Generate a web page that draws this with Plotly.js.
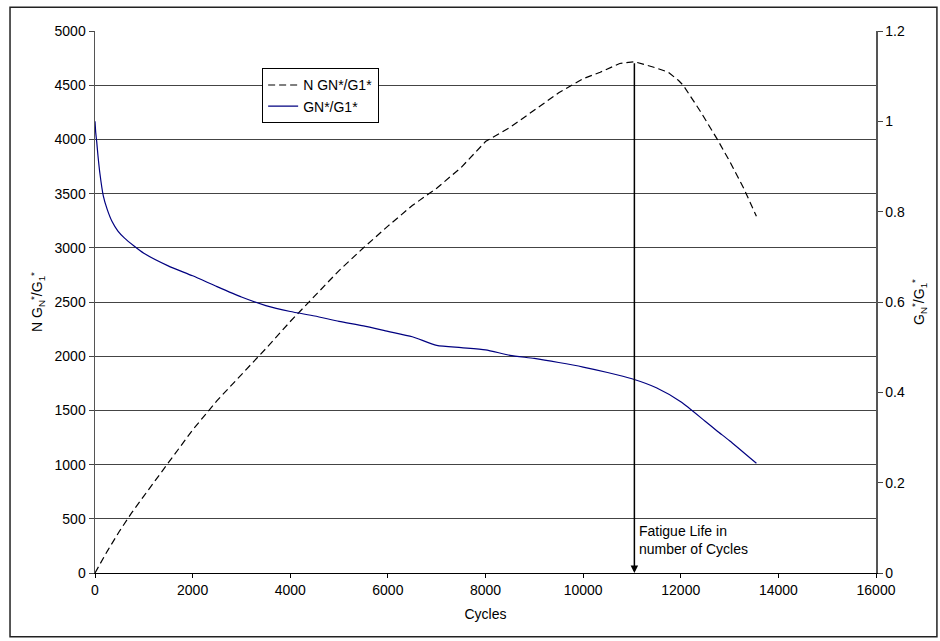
<!DOCTYPE html>
<html>
<head>
<meta charset="utf-8">
<script src="https://cdn.plot.ly/plotly-3.0.1.min.js"></script>
<style>html,body{margin:0;padding:0;background:#fff;}#chart{width:940px;height:641px;}</style>
</head>
<body>
<div id="chart"></div>
<script>
// N * GN*/G1* (left axis)
const cyclesN = [0, 250, 500, 750, 1000, 1500, 2000, 2500, 3000, 3500, 4000, 4500, 5000, 5500, 6000, 6500, 7000, 7500, 8000, 8500, 9000, 9500, 10000, 10350, 10750, 11050, 11430, 11740, 11950, 12050, 12400, 12750, 13000, 13300, 13550];
const nRatio = [0, 200, 385, 555, 710, 1015, 1320, 1590, 1830, 2070, 2320, 2560, 2790, 3000, 3200, 3390, 3550, 3740, 3980, 4110, 4270, 4430, 4560, 4620, 4700, 4717, 4668, 4622, 4545, 4500, 4260, 4000, 3800, 3540, 3290];

// GN*/G1* (right axis)
const cyclesG = [0, 15, 35, 60, 100, 170, 250, 350, 470, 600, 800, 1000, 1500, 2000, 2500, 3000, 3500, 4000, 4500, 5000, 5500, 6000, 6500, 7000, 7500, 8000, 8500, 9000, 9500, 10000, 10500, 11000, 11500, 12000, 12500, 12750, 13000, 13550];
const gRatio = [1.0, 0.975, 0.955, 0.925, 0.885, 0.835, 0.805, 0.778, 0.757, 0.742, 0.724, 0.708, 0.680, 0.658, 0.634, 0.611, 0.592, 0.579, 0.569, 0.557, 0.547, 0.535, 0.523, 0.504, 0.499, 0.494, 0.482, 0.475, 0.466, 0.456, 0.444, 0.430, 0.410, 0.379, 0.336, 0.314, 0.293, 0.243];

const fatigueLife = 11050;
const fatiguePeak = 4717;
const fatigueLabel = 'Fatigue Life in<br>number of Cycles';
const fatigueLabelY = 300;

const font = {family: 'Liberation Sans, Arial, sans-serif', size: 14, color: '#000'};

const traces = [
  {x: cyclesN, y: nRatio, yaxis: 'y', type: 'scatter', mode: 'lines',
   name: 'N GN*/G1*', line: {color: '#000', width: 1.2, dash: '7px,4px'}},
  {x: cyclesG, y: gRatio, yaxis: 'y2', type: 'scatter', mode: 'lines',
   name: 'GN*/G1*', line: {color: '#000080', width: 1.2, shape: 'spline', smoothing: 0.6}}
];

const layout = {
  width: 940, height: 641,
  margin: {l: 95, r: 64, t: 31, b: 68},
  paper_bgcolor: '#fff', plot_bgcolor: '#fff',
  font: font,
  showlegend: true,
  legend: {x: 0.214, y: 0.931, xanchor: 'left', yanchor: 'top',
    bgcolor: '#fff', bordercolor: '#000', borderwidth: 1,
    font: font, traceorder: 'normal'},
  xaxis: {range: [0, 16000], dtick: 2000, tick0: 0, tickformat: 'd',
    showgrid: false, zeroline: false, showline: true, linecolor: '#000', linewidth: 1,
    ticks: 'outside', ticklen: 4, tickcolor: '#000',
    title: {text: 'Cycles', font: font, standoff: 12}},
  yaxis: {range: [0, 5000], dtick: 500, tick0: 0, tickformat: 'd',
    showgrid: true, gridcolor: '#444', gridwidth: 1, zeroline: false,
    showline: true, linecolor: '#555', linewidth: 1.5,
    ticks: 'outside', ticklen: 5, tickcolor: '#444',
    title: {text: 'N G<sub>N</sub><sup>*</sup>/G<sub>1</sub><sup>*</sup>', font: font, standoff: 8}},
  yaxis2: {range: [0, 1.2], dtick: 0.2, tick0: 0, overlaying: 'y', side: 'right',
    showgrid: false, zeroline: false, showline: true, linecolor: '#555', linewidth: 1.5,
    ticks: 'outside', ticklen: 5, tickcolor: '#444',
    title: {text: 'G<sub>N</sub><sup>*</sup>/G<sub>1</sub><sup>*</sup>', font: font, standoff: 10}},
  annotations: [
    {x: fatigueLife, y: 0, ax: fatigueLife, ay: fatiguePeak, xref: 'x', yref: 'y', axref: 'x', ayref: 'y',
     showarrow: true, arrowhead: 2, arrowsize: 1, arrowwidth: 1.5, arrowcolor: '#000', text: ''},
    {x: fatigueLife, y: fatigueLabelY, xref: 'x', yref: 'y', xanchor: 'left', yanchor: 'middle',
     xshift: 3, showarrow: false, align: 'left', text: fatigueLabel, font: font}
  ],
  shapes: [
    {type: 'rect', xref: 'paper', yref: 'paper', x0: -0.1088, x1: 1.078, y0: -0.1174, y1: 1.0437,
     line: {color: '#222', width: 1.5}, fillcolor: 'rgba(0,0,0,0)'}
  ]
};

Plotly.newPlot('chart', traces, layout, {displayModeBar: false, staticPlot: true});
</script>
</body>
</html>
